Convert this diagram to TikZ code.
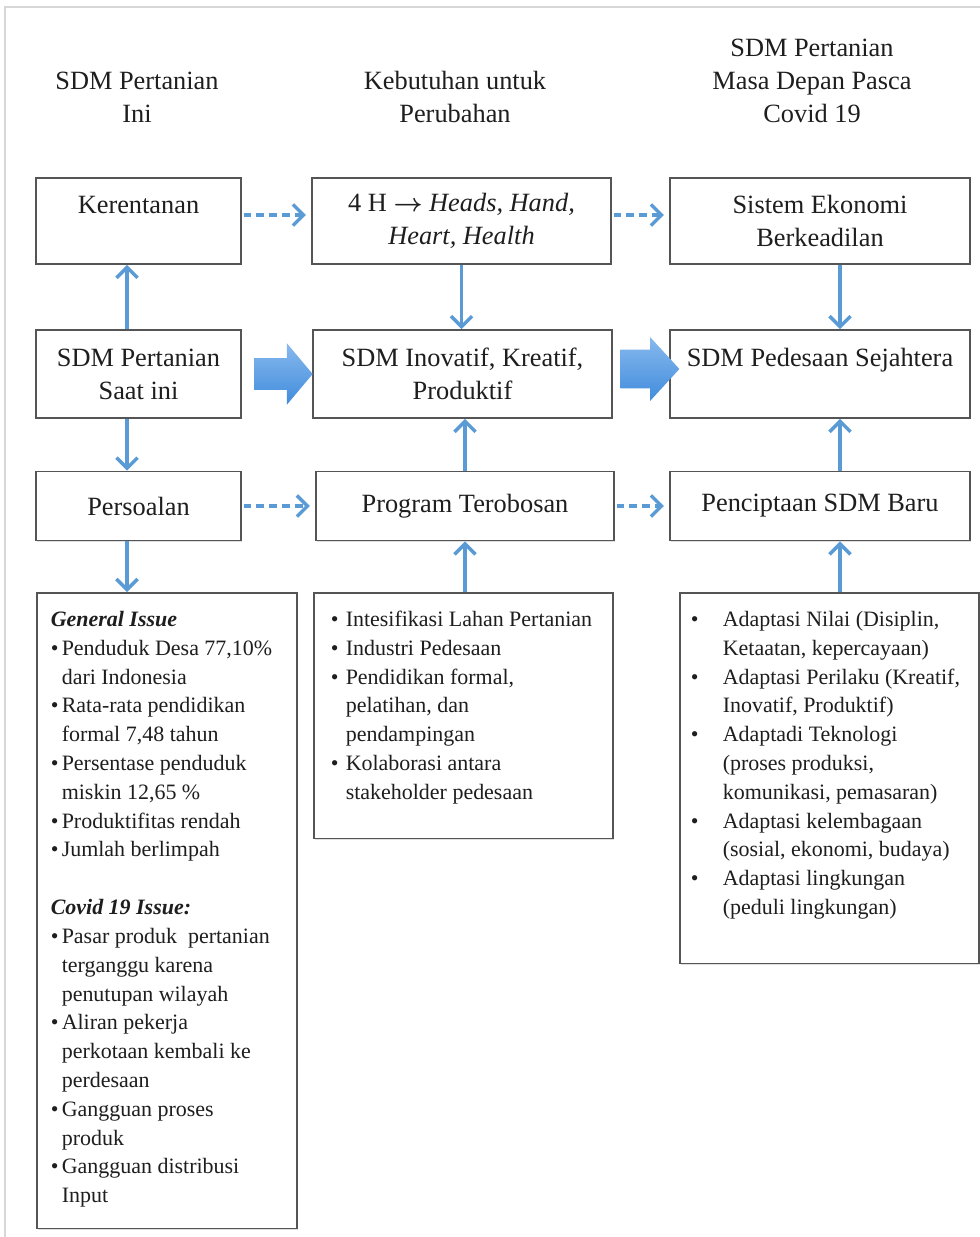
\documentclass[tikz,border=0pt]{standalone}
\usepackage{amsmath}
\usepackage{fontspec}
\setmainfont{Liberation Serif}
\usetikzlibrary{arrows.meta,shapes.arrows,shadows,calc}
\definecolor{arrowblue}{RGB}{91,155,213}
\definecolor{boxgray}{RGB}{85,85,85}
\definecolor{framegray}{RGB}{215,215,215}
\definecolor{textdark}{RGB}{30,30,30}
\begin{document}
\begin{tikzpicture}[x=0.02cm, y=-0.02cm, >={Straight Barb[length=6pt,width=12pt]},
  box/.style={draw=boxgray, line width=0.9pt, fill=white, text=textdark, align=center, inner sep=0pt,
    font=\fontsize{15}{18.7}\selectfont, drop shadow={opacity=0.25, shadow xshift=0.8pt, shadow yshift=-0.8pt}},
  listbox/.style={box, anchor=north west, font=\fontsize{12.5}{16.4}\selectfont, inner ysep=0.27cm},
  title/.style={align=center, text=textdark, font=\fontsize{15}{18.7}\selectfont},
  link/.style={->, arrowblue, line width=2pt},
  dlink/.style={link, dash pattern=on 4.5pt off 2.8pt, shorten <=1pt, shorten >=3pt},
  bigarrow/.style={single arrow, draw=none, inner sep=0pt, text depth=0pt,
    top color={rgb,255:red,135;green,185;blue,238}, bottom color={rgb,255:red,65;green,140;blue,220}}]
\useasboundingbox (0,0) rectangle (980,1237);
\draw[framegray, line width=0.8pt] (5,1237) -- (5,7) -- (980,7);

\node[title] (t1) at (137,97){SDM Pertanian\\Ini};
\node[title] (t2) at (455,97){Kebutuhan untuk\\Perubahan};
\node[title] (t3) at (812,81){SDM Pertanian\\Masa Depan Pasca\\Covid 19};

\node[box, minimum width=4.1cm, minimum height=1.72cm] (ker) at (138.5,221){Kerentanan\\\mbox{}};
\node[box, minimum width=5.98cm, minimum height=1.72cm] (fourh) at (461.5,221){4 H $\boldsymbol{\rightarrow}$ \textit{Heads, Hand,}\\\textit{Heart, Health}};
\node[box, minimum width=6cm, minimum height=1.72cm] (sistem) at (820,221){Sistem Ekonomi\\Berkeadilan};

\node[box, minimum width=4.1cm, minimum height=1.76cm] (saat) at (138.5,374){SDM Pertanian\\Saat ini};
\node[box, minimum width=5.98cm, minimum height=1.76cm] (inov) at (462.5,374){SDM Inovatif, Kreatif,\\Produktif};
\node[box, minimum width=6cm, minimum height=1.76cm] (pedes) at (820,374){SDM Pedesaan Sejahtera\\\mbox{}};

\node[box, minimum width=4.1cm, minimum height=1.38cm] (pers) at (138.5,506){Persoalan};
\node[box, minimum width=5.96cm, minimum height=1.38cm] (prog) at (465,506){Program Terobosan};
\node[box, minimum width=6cm, minimum height=1.38cm] (penc) at (820,506){Penciptaan SDM Baru};

\node[listbox, inner xsep=0.28cm, text depth=11.77cm] (issues) at (36,592){\makebox[4.64cm][l]{\begin{tabular}[t]{@{}p{0.22cm}@{}l@{}}
\multicolumn{2}{@{}l@{}}{\textbf{\textit{General Issue}}}\\
\textbullet & Penduduk Desa 77,10\%\\
 & dari Indonesia\\
\textbullet & Rata-rata pendidikan\\
 & formal 7,48 tahun\\
\textbullet & Persentase penduduk\\
 & miskin 12,65 \%\\
\textbullet & Produktifitas rendah\\
\textbullet & Jumlah berlimpah\\
 & \\
\multicolumn{2}{@{}l@{}}{\textbf{\textit{Covid 19 Issue:}}}\\
\textbullet & Pasar produk~ pertanian\\
 & terganggu karena\\
 & penutupan wilayah\\
\textbullet & Aliran pekerja\\
 & perkotaan kembali ke\\
 & perdesaan\\
\textbullet & Gangguan proses\\
 & produk\\
\textbullet & Gangguan distribusi\\
 & Input
\end{tabular}}};

\node[listbox, inner xsep=0.34cm, text depth=3.97cm] (progs) at (313,592){\makebox[5.3cm][l]{\begin{tabular}[t]{@{}p{0.3cm}@{}l@{}}
\textbullet & Intesifikasi Lahan Pertanian\\
\textbullet & Industri Pedesaan\\
\textbullet & Pendidikan formal,\\
 & pelatihan, dan\\
 & pendampingan\\
\textbullet & Kolaborasi antara\\
 & stakeholder pedesaan
\end{tabular}}};

\node[listbox, inner xsep=0.22cm, text depth=6.47cm] (adapt) at (679,592){\makebox[5.54cm][l]{\begin{tabular}[t]{@{}p{0.64cm}@{}l@{}}
\textbullet & Adaptasi Nilai (Disiplin,\\
 & Ketaatan, kepercayaan)\\
\textbullet & Adaptasi Perilaku (Kreatif,\\
 & Inovatif, Produktif)\\
\textbullet & Adaptadi Teknologi\\
 & (proses produksi,\\
 & komunikasi, pemasaran)\\
\textbullet & Adaptasi kelembagaan\\
 & (sosial, ekonomi, budaya)\\
\textbullet & Adaptasi lingkungan\\
 & (peduli lingkungan)
\end{tabular}}};

\node[bigarrow, text height=0.62cm, minimum height=1.16cm, single arrow head extend=0.3cm, single arrow tip angle=100] (big1) at ($(saat.east)!0.5!(inov.west)$){};
\node[bigarrow, text height=0.76cm, minimum height=1.18cm, single arrow head extend=0.25cm, single arrow tip angle=95, yshift=0.1cm] (big2) at ($(inov.east)!0.5!(pedes.west)$){};

\draw[dlink] ([yshift=0.12cm]ker.east) -- ([yshift=0.12cm]fourh.west);
\draw[dlink] ([yshift=0.12cm]fourh.east) -- ([yshift=0.12cm]sistem.west);
\draw[dlink] (pers.east) -- (prog.west);
\draw[dlink] (prog.east) -- (penc.west);

\draw[link] ([xshift=-0.23cm]saat.north) -- ([xshift=-0.23cm]ker.south);
\draw[link] ([xshift=-0.23cm]saat.south) -- ([xshift=-0.23cm]pers.north);
\draw[link] ([xshift=-0.23cm]pers.south) -- ([xshift=-0.23cm]pers.south |- issues.north);
\draw[link] (fourh.south) -- (fourh.south |- inov.north);
\draw[link] (prog.north) -- (prog.north |- inov.south);
\draw[link] (prog.south |- progs.north) -- (prog.south);
\draw[link] ([xshift=0.4cm]sistem.south) -- ([xshift=0.4cm]pedes.north);
\draw[link] ([xshift=0.4cm]penc.north) -- ([xshift=0.4cm]pedes.south);
\draw[link] ([xshift=0.4cm]penc.south |- adapt.north) -- ([xshift=0.4cm]penc.south);
\end{tikzpicture}
\end{document}
